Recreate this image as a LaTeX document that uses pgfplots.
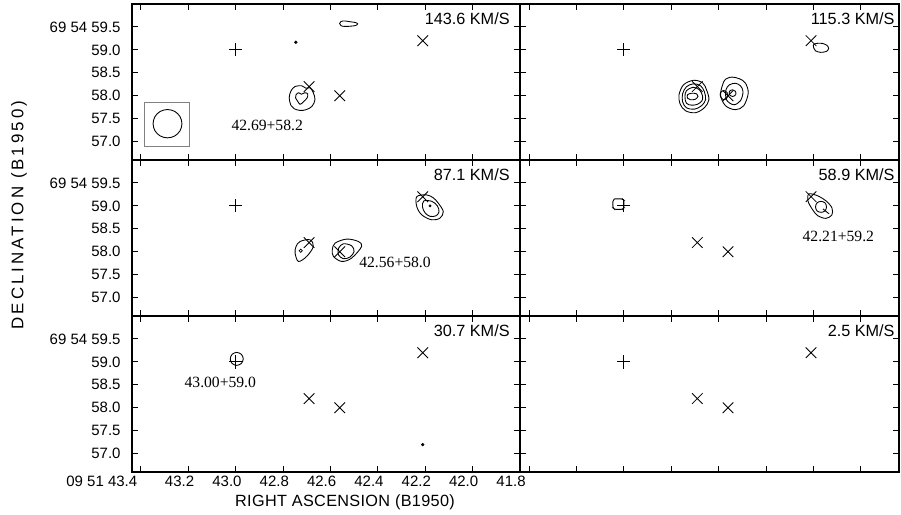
\documentclass[border=0pt]{standalone}
\usepackage{fontspec}
\setmainfont{Liberation Sans}
\newfontfamily\serifa{Liberation Serif}
\newfontfamily\spacedA[LetterSpace=2]{Liberation Sans}
\newfontfamily\spacedB[LetterSpace=18]{Liberation Sans}
\usepackage{pgfplots}
\pgfplotsset{compat=1.18}
\pgfplotsset{
  panel/.style={scale only axis, height=124.8pt, ymin=56.6, ymax=60.0, x dir=reverse,
    xtick={41.8,42.0,42.2,42.4,42.6,42.8,43.0,43.2,43.4},
    ytick={57.0,57.5,58.0,58.5,59.0,59.5},
    xticklabels={}, yticklabels={},
    tick align=inside, major tick length=5pt,
    axis line style={line width=0.9pt},
    tick style={black, line width=0.8pt},
    tick label style={font=\fontsize{12}{14}\selectfont},
    clip=false},
  lpanel/.style={panel, width=310.4pt, xmin=41.799, xmax=43.438},
  rpanel/.style={panel, width=303.2pt, xmin=41.839, xmax=43.438},
  ylab/.style={yticklabels={57.0,57.5,58.0,58.5,59.0,{69 54 59.5\hspace{2pt}}},
    yticklabel style={xshift=-5.6pt}},
  ctr/.style={black, line width=0.7pt, smooth cycle, tension=0.55, mark=none},
}
\tikzset{
  vel/.style={anchor=east, font=\fontsize{13}{15}\selectfont, inner sep=0pt},
  src/.style={font=\serifa\fontsize{12.5}{14}\selectfont, inner sep=0pt},
}
\newcommand{\markers}{%
  \addplot[only marks, mark=+, mark size=5.3pt, line width=0.7pt] coordinates {(43.00,59.0)};
  \addplot[only marks, mark=x, mark size=6pt, line width=0.7pt] coordinates {(42.69,58.2) (42.56,58.0) (42.21,59.2)};
}
\begin{document}
\begin{tikzpicture}
\path[use as bounding box] (0pt,0pt) rectangle (720.8pt,412pt);

% ---- panel 1: 143.6 km/s
\begin{axis}[lpanel, ylab, at={(105.6pt,408.8pt)}, anchor=north west]
\markers
\addplot[ctr] coordinates {(42.561,59.576) (42.555,59.620) (42.538,59.630) (42.517,59.613) (42.496,59.598) (42.485,59.570) (42.492,59.533) (42.513,59.517) (42.538,59.511) (42.555,59.526)};
\addplot[only marks, mark=*, mark size=1.1pt] coordinates {(42.746,59.167)};
\addplot[ctr] coordinates {(42.774,57.957) (42.766,58.109) (42.749,58.202) (42.721,58.217) (42.703,58.163) (42.686,58.174) (42.672,58.065) (42.665,57.913) (42.678,57.767) (42.703,57.696) (42.728,57.680) (42.753,57.717) (42.767,57.794)};
\addplot[ctr] coordinates {(42.745,58.022) (42.734,58.065) (42.722,58.033) (42.709,58.065) (42.696,58.043) (42.698,57.957) (42.713,57.870) (42.728,57.815) (42.738,57.880) (42.747,57.957)};
\addplot[gray, line width=0.8pt] coordinates {(43.385,57.854) (43.195,57.854) (43.195,56.898) (43.385,56.898) (43.385,57.854)};
\addplot[ctr] coordinates {(43.349,57.391) (43.341,57.545) (43.319,57.658) (43.288,57.700) (43.257,57.658) (43.235,57.545) (43.227,57.391) (43.235,57.237) (43.257,57.124) (43.288,57.082) (43.319,57.124) (43.341,57.237)};
\node[src] at (axis cs:42.867,57.348) {42.69+58.2};
\node[vel] at (axis description cs:0.974,0.904) {143.6 KM/S};
\end{axis}

% ---- panel 2: 115.3 km/s
\begin{axis}[rpanel, at={(416pt,408.8pt)}, anchor=north west]
\markers
\addplot[ctr] coordinates {(42.200,59.109) (42.187,59.141) (42.162,59.141) (42.143,59.098) (42.136,59.033) (42.145,58.967) (42.170,58.946) (42.191,58.978) (42.198,59.033)};
\addplot[ctr] coordinates {(42.706,58.337) (42.668,58.283) (42.651,58.130) (42.641,57.913) (42.660,57.739) (42.698,57.630) (42.740,57.674) (42.763,57.826) (42.767,58.022) (42.748,58.239)};
\addplot[ctr] coordinates {(42.706,58.261) (42.676,58.217) (42.660,58.087) (42.655,57.913) (42.672,57.783) (42.702,57.707) (42.736,57.739) (42.752,57.870) (42.752,58.043) (42.736,58.196)};
\addplot[ctr] coordinates {(42.708,58.185) (42.681,58.130) (42.668,58.000) (42.670,57.891) (42.689,57.815) (42.714,57.794) (42.736,57.837) (42.742,57.978) (42.736,58.109)};
\addplot[ctr] coordinates {(42.731,58.022) (42.714,58.054) (42.693,58.043) (42.687,57.989) (42.698,57.924) (42.719,57.913) (42.731,57.946)};
\addplot[ctr] coordinates {(42.543,58.407) (42.512,58.370) (42.487,58.276) (42.475,58.059) (42.494,57.783) (42.529,57.696) (42.571,57.783) (42.592,58.022) (42.578,58.311) (42.563,58.380)};
\addplot[ctr] coordinates {(42.529,58.272) (42.508,58.217) (42.497,58.087) (42.508,57.891) (42.537,57.804) (42.567,57.913) (42.569,58.130) (42.554,58.239)};
\addplot[ctr] coordinates {(42.541,58.130) (42.529,58.098) (42.528,58.022) (42.541,57.985) (42.554,58.022) (42.554,58.098)};
\addplot[ctr] coordinates {(42.579,58.115) (42.564,58.065) (42.564,57.957) (42.579,57.913) (42.592,57.978) (42.592,58.065)};
\node[vel] at (axis description cs:0.989,0.904) {115.3 KM/S};
\end{axis}

% ---- panel 3: 87.1 km/s
\begin{axis}[lpanel, ylab, at={(105.6pt,284pt)}, anchor=north west]
\markers
\addplot[ctr] coordinates {(42.235,59.202) (42.193,59.239) (42.165,59.174) (42.144,59.059) (42.123,58.876) (42.137,58.733) (42.172,58.696) (42.214,58.804) (42.235,58.985)};
\addplot[ctr] coordinates {(42.205,59.109) (42.171,59.098) (42.148,59.000) (42.141,58.870) (42.154,58.783) (42.179,58.772) (42.200,58.848) (42.211,58.978)};
\addplot[only marks, mark=*, mark size=0.9pt] coordinates {(42.179,59.000)};
\addplot[ctr] coordinates {(42.728,58.224) (42.686,58.261) (42.672,58.115) (42.700,57.898) (42.735,57.789) (42.749,57.972) (42.745,58.115)};
\addplot[only marks, mark=o, mark size=1.3pt, line width=0.5pt] coordinates {(42.725,58.022)};
\addplot[ctr] coordinates {(42.580,58.189) (42.531,58.276) (42.482,58.224) (42.468,58.115) (42.510,57.863) (42.552,57.789) (42.587,57.898) (42.592,58.043)};
\addplot[ctr] coordinates {(42.545,58.174) (42.510,58.130) (42.500,58.007) (42.517,57.885) (42.545,57.848) (42.566,57.935) (42.565,58.080)};
\node[src] at (axis cs:42.327,57.761) {42.56+58.0};
\node[vel] at (axis description cs:0.974,0.904) {87.1 KM/S};
\end{axis}

% ---- panel 4: 58.9 km/s
\begin{axis}[rpanel, at={(416pt,284pt)}, anchor=north west]
\markers
\addplot[black, line width=0.7pt, rounded corners=1pt] coordinates {(43.039,59.152) (43.006,59.152) (42.999,59.120) (42.999,58.957) (43.006,58.924) (43.039,58.924) (43.046,58.957) (43.046,59.120) (43.039,59.152)};
\addplot[ctr] coordinates {(42.219,59.261) (42.181,59.217) (42.147,59.109) (42.122,58.957) (42.122,58.804) (42.147,58.728) (42.181,58.783) (42.206,58.935) (42.223,59.109)};
\addplot[ctr] coordinates {(42.168,59.098) (42.151,59.065) (42.145,58.978) (42.151,58.891) (42.168,58.859) (42.185,58.891) (42.191,58.978) (42.185,59.065)};
\addplot[black, line width=0.7pt] coordinates {(42.160,58.935) (42.134,58.826)};
\node[src] at (axis cs:42.095,58.326) {42.21+59.2};
\node[vel] at (axis description cs:0.989,0.904) {58.9 KM/S};
\end{axis}

% ---- panel 5: 30.7 km/s
\begin{axis}[lpanel, ylab, at={(105.6pt,159.2pt)}, anchor=north west,
  xticklabels={41.8,42.0,42.2,42.4,42.6,42.8,43.0,43.2,{\makebox[0pt][r]{09 51 43.4\hspace{-4pt}}}},
  xticklabel style={xshift=-7pt}]
\markers
\addplot[ctr] coordinates {(42.968,59.065) (42.976,59.165) (42.996,59.207) (43.015,59.165) (43.023,59.065) (43.015,58.965) (42.996,58.924) (42.976,58.965)};
\addplot[only marks, mark=*, mark size=1.1pt] coordinates {(42.21,57.196)};
\node[src] at (axis cs:43.065,58.543) {43.00+59.0};
\node[vel] at (axis description cs:0.974,0.904) {30.7 KM/S};
\end{axis}

% ---- panel 6: 2.5 km/s
\begin{axis}[rpanel, at={(416pt,159.2pt)}, anchor=north west]
\markers
\node[vel] at (axis description cs:0.989,0.904) {2.5 KM/S};
\end{axis}

\node[font=\spacedA\fontsize{13}{15}\selectfont] at (276pt,10.4pt) {RIGHT ASCENSION (B1950)};
\node[font=\spacedB\fontsize{13.5}{15}\selectfont, rotate=90] at (15.2pt,240pt) {DECLINATION (B1950)};
\end{tikzpicture}
\end{document}
